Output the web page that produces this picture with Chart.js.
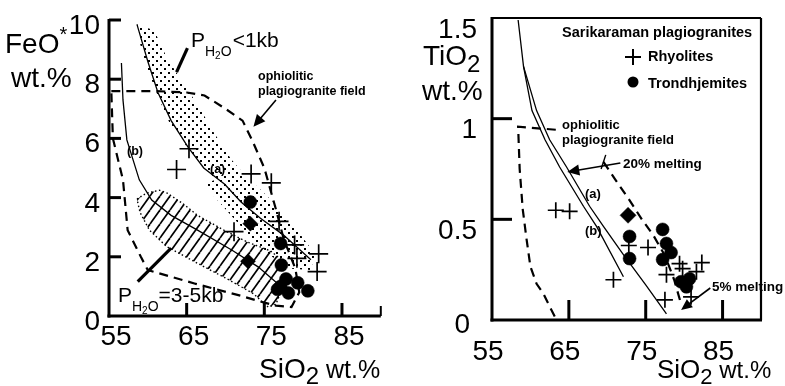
<!DOCTYPE html>
<html><head><meta charset="utf-8">
<script src="https://cdn.jsdelivr.net/npm/chart.js@4/dist/chart.umd.min.js"></script>
<style>
html,body{margin:0;padding:0;background:#fff;width:785px;height:386px;overflow:hidden}
canvas{position:absolute;top:0}
#c1{left:0}
#c2{left:392px}
</style></head><body>
<canvas id="c1" width="392" height="386"></canvas>
<canvas id="c2" width="393" height="386"></canvas>
<script>
// ---------- data ----------
const xTickValues = [55, 65, 75, 85];
const feoTickValues = [0, 2, 4, 6, 8, 10];
const tioTickValues = [0, 0.5, 1, 1.5];
const tioTickLabels = ['0', '0.5', '1', '1.5'];

// FeO* panel
const feoRhyolites = [[65.3,5.65],[63.7,4.95],[73.3,4.8],[75.9,4.5],[71.1,2.85],[76.9,3.2],[78.9,2.4],[79.2,1.95],[82,2.1],[81.8,1.5]];
const feoTrondhjemites = [[73.2,3.85],[77.1,2.45],[77.2,1.72],[77.1,1.0],[78.1,0.78],[80.6,0.85],[79.3,1.12],[76.7,0.9],[77.8,1.25]];
const feoDiamonds = [[73.2,3.12],[72.9,1.85]];
const feoCurveA = [[58.6,9.85],[60,8.6],[61.3,7.55],[63,6.6],[65.2,5.7],[67.2,5.0],[69.9,4.45],[72,3.85],[74.5,3.3],[77.4,2.75],[81,1.9]];
const feoCurveB = [[56.6,8.55],[56.8,7.3],[57.3,5.95],[58.9,4.6],[60.5,3.92],[63,3.4],[66.4,2.9],[70.8,2.23],[74.2,1.66],[76.7,1.1]];
const feoOphiolitic = [[55.3,7.6],[61,7.6],[65,7.55],[67.3,7.45],[70,7.0],[72.2,6.6],[73.5,5.9],[75,5.0],[76.5,3.6],[77.5,2.6],[79,1.6],[79.5,0.8],[78.5,0.3],[76.5,0.35],[75,0.45],[72,0.68],[66,1.1],[60,1.55],[59.1,2.0],[57.4,2.9],[56.8,4.6],[55.5,6.0],[55.3,7.6]];
const feoLowP = [[58.6,9.85],[60.8,9.65],[62.5,8.7],[64.5,7.9],[66.5,7.1],[68.5,6.2],[70.7,5.3],[72.7,4.7],[74.6,4.25],[76.3,3.8],[77.6,3.35],[79.5,2.8],[81.5,2.1],[81,1.55],[78.5,1.6],[76,2.0],[73.5,2.6],[70.7,3.4],[68,4.2],[67.2,4.45],[68.7,4.6],[67.5,5.0],[66.2,5.3],[64.5,5.9],[63,6.4],[61.5,7.3],[60,8.3],[59,9.2],[58.6,9.85]];
const feoHighP = [[58.6,3.95],[59.8,4.15],[61.5,4.25],[62.5,4.15],[64.5,3.8],[66.4,3.4],[69.8,2.9],[72.8,2.5],[75.8,2.2],[77.2,1.9],[77.4,1.0],[76.5,0.4],[75.5,0.3],[73.6,0.75],[70.6,1.2],[66.4,1.78],[62.4,2.35],[60.2,2.9],[59,3.5],[58.6,3.95]];

// TiO2 panel
const tioRhyolites = [[63.3,0.545],[65.1,0.54],[70.8,0.2],[75.3,0.36],[72.8,0.37],[79.4,0.28],[82.3,0.285],[77.7,0.225],[81.6,0.24],[77.5,0.1],[80.9,0.115],[79.8,0.255]];
const tioTrondhjemites = [[72.9,0.415],[72.9,0.305],[77.2,0.45],[77.7,0.38],[78.3,0.335],[77.2,0.3],[79.6,0.19],[80.7,0.205],[80.3,0.165]];
const tioDiamonds = [[72.7,0.52]];
const tioCurveA = [[58.4,1.49],[59.1,1.26],[60.8,1.04],[62.5,0.895],[64.7,0.76],[67.7,0.565],[69.5,0.465],[72,0.33],[75,0.175],[77.7,0.03]];
const tioCurveB = [[59.1,1.26],[60.2,1.04],[61.9,0.895],[63.8,0.76],[66.9,0.565],[68.6,0.465],[72.1,0.215]];
const tioOphioliticLeft = [[63.3,0.945],[58.4,0.96],[58.6,0.75],[59.0,0.55],[59.5,0.4],[60,0.265],[60.8,0.18],[61.7,0.13],[62.6,0.06],[63.4,0.0]];
const tioOphioliticRight = [[69.5,0.785],[71,0.7],[72.8,0.6],[74.5,0.5],[76,0.42],[77.5,0.32],[78.7,0.2],[79.6,0.08]];

// ---------- helpers ----------
const FONT = '"Liberation Sans", Arial, Helvetica, sans-serif';
const OX = 392; // page offset of right canvas
const xy = a => a.map(([x, y]) => ({x, y}));

function makePatterns(ctx) {
  const s = document.createElement('canvas'); s.width = 8; s.height = 8;
  const g = s.getContext('2d'); g.fillStyle = '#000';
  g.fillRect(0, 0, 2, 2); g.fillRect(4, 4, 2, 2);
  const h = document.createElement('canvas'); h.width = 10; h.height = 14;
  const k = h.getContext('2d'); k.strokeStyle = '#000'; k.lineWidth = 1.7;
  for (const o of [-10, 0, 10]) { k.beginPath(); k.moveTo(o, 14); k.lineTo(o + 10, 0); k.stroke(); }
  return {stipple: ctx.createPattern(s, 'repeat'), hatch: ctx.createPattern(h, 'repeat')};
}
function setFont(ctx, size, bold) { ctx.font = (bold ? 'bold ' : '') + size + 'px ' + FONT; }
function text(ctx, s, x, y, size, bold, align) {
  setFont(ctx, size, bold); ctx.textAlign = align || 'left'; ctx.textBaseline = 'alphabetic';
  ctx.fillText(s, x, y); return ctx.measureText(s).width;
}
function runs(ctx, x, y, parts, bold) {
  for (const [s, size, dy] of parts) x += text(ctx, s, x, y + (dy || 0), size, bold, 'left');
}
function seg(ctx, x1, y1, x2, y2, w) {
  ctx.lineWidth = w; ctx.beginPath(); ctx.moveTo(x1, y1); ctx.lineTo(x2, y2); ctx.stroke();
}
function arrow(ctx, x1, y1, x2, y2, w, len, half) {
  const a = Math.atan2(y2 - y1, x2 - x1);
  seg(ctx, x1, y1, x2 - len * 0.6 * Math.cos(a), y2 - len * 0.6 * Math.sin(a), w);
  ctx.beginPath(); ctx.moveTo(x2, y2);
  ctx.lineTo(x2 - len * Math.cos(a) + half * Math.sin(a), y2 - len * Math.sin(a) - half * Math.cos(a));
  ctx.lineTo(x2 - len * Math.cos(a) - half * Math.sin(a), y2 - len * Math.sin(a) + half * Math.cos(a));
  ctx.closePath(); ctx.fill();
}
function pts(data, style, r, extra) {
  return Object.assign({data: xy(data), showLine: false, pointStyle: style, pointRadius: r, pointHoverRadius: r,
    pointBorderWidth: style === 'cross' ? 1.7 : 0.5, borderColor: '#000', backgroundColor: '#000',
    pointBorderColor: '#000', pointBackgroundColor: '#000'}, extra || {});
}
function lineDs(data, w, dash) {
  return {data: xy(data), showLine: true, pointRadius: 0, pointHoverRadius: 0, borderColor: '#000',
    borderWidth: w, borderDash: dash || [], fill: false, tension: 0};
}
function polyDs(data, pattern, border, dash) {
  return {data: xy(data), showLine: true, pointRadius: 0, pointHoverRadius: 0,
    borderColor: border ? '#000' : 'rgba(0,0,0,0)', borderWidth: border ? 1.4 : 1, borderDash: dash || [],
    backgroundColor: pattern, fill: 'shape', tension: 0};
}
function makeChart(id, ymax, padding, datasets, deco) {
  return new Chart(document.getElementById(id), {
    type: 'scatter',
    data: {datasets},
    options: {
      responsive: false, animation: false, devicePixelRatio: 1, events: [],
      layout: {padding},
      scales: {
        x: {type: 'linear', min: 55, max: 90, display: false},
        y: {type: 'linear', min: 0, max: ymax, display: false}
      },
      plugins: {legend: {display: false}, tooltip: {enabled: false}}
    },
    plugins: [{id: 'deco', afterDatasetsDraw: deco}]
  });
}

// ---------- left panel ----------
function decoFeO(chart) {
  const ctx = chart.ctx, X = v => chart.scales.x.getPixelForValue(v), Y = v => chart.scales.y.getPixelForValue(v);
  ctx.save(); ctx.strokeStyle = '#000'; ctx.fillStyle = '#000';
  seg(ctx, X(55), Y(10) - 1, X(55), Y(0) + 1.5, 3);
  seg(ctx, X(55) - 1.5, Y(0), X(90), Y(0), 3);
  feoTickValues.forEach(t => { if (t > 0) seg(ctx, X(55), Y(t), X(55) + 12, Y(t), 3); });
  xTickValues.forEach(t => { if (t > 55) seg(ctx, X(t), Y(0), X(t), Y(0) - 13, 3); });
  seg(ctx, X(90), Y(0), X(90), Y(0) - 10, 2);
  feoTickValues.forEach(t => text(ctx, String(t), X(55) - 9, Y(t) + 14, 28, false, 'right'));
  xTickValues.forEach(t => text(ctx, String(t), X(t) + 7, Y(0) + 29, 28, false, 'center'));
  runs(ctx, 5, 53, [['FeO', 28], ['*', 20, -12]]);
  text(ctx, 'wt.%', 11, 87, 28);
  runs(ctx, 259, 378, [['SiO', 28], ['2', 24, 6], [' wt.%', 25]]);
  // P_H2O labels
  runs(ctx, 191, 47, [['P', 21], ['H', 14, 9], ['2', 10, 12], ['O', 14, 9], [' ', 4], ['<1kb', 21]]);
  runs(ctx, 118, 302, [['P', 21], ['H', 14, 9], ['2', 10, 12], ['O', 14, 9], ['=3-5kb', 21]]);
  ctx.lineCap = 'butt';
  seg(ctx, X(65.1), Y(9.05), X(63.7), Y(8.24), 3.2);
  seg(ctx, X(58.7), Y(1.16), X(63), Y(2.29), 3.2);
  text(ctx, 'ophiolitic', 258, 80, 12.5, true);
  text(ctx, 'plagiogranite field', 258, 95, 12.5, true);
  arrow(ctx, X(76.5), Y(7.3), X(73.6), Y(6.39), 1.6, 12, 5.5);
  text(ctx, '(b)', 127, 155, 12.5, true);
  text(ctx, '(a)', 210, 173, 12.5, true);
  ctx.restore();
}

// ---------- right panel ----------
function decoTiO(chart) {
  const ctx = chart.ctx, X = v => chart.scales.x.getPixelForValue(v), Y = v => chart.scales.y.getPixelForValue(v);
  ctx.save(); ctx.strokeStyle = '#000'; ctx.fillStyle = '#000';
  seg(ctx, X(55), Y(1.5), X(90), Y(1.5), 2.2);
  seg(ctx, X(90), Y(1.5), X(90), Y(0), 2.2);
  seg(ctx, X(55), Y(1.5) - 1, X(55), Y(0) + 1.5, 3);
  seg(ctx, X(55) - 1.5, Y(0), X(90) + 1, Y(0), 3);
  tioTickValues.forEach(t => { if (t > 0 && t < 1.5) seg(ctx, X(55), Y(t), X(55) + 20, Y(t), 3); });
  xTickValues.forEach(t => { if (t > 55) seg(ctx, X(t), Y(0), X(t), Y(0) - 20, 3); });
  tioTickValues.forEach((t, i) => text(ctx, tioTickLabels[i], X(55) - 15 - (t === 0 ? 7 : 0), Y(t) + (t === 0 ? 13 : 19.5), 28, false, 'right'));
  xTickValues.forEach(t => text(ctx, String(t), X(t) - 4, Y(0) + 40, 28, false, 'center'));
  runs(ctx, 423 - OX, 65, [['TiO', 28], ['2', 24, 7]]);
  text(ctx, 'wt.%', 422 - OX, 100, 28);
  runs(ctx, 657 - OX, 378, [['SiO', 26], ['2', 22, 6], [' wt.%', 24]]);
  // legend
  text(ctx, 'Sarikaraman plagiogranites', 562 - OX, 37, 14.5, true);
  seg(ctx, 625 - OX, 57, 641 - OX, 57, 2); seg(ctx, 633 - OX, 49, 633 - OX, 65, 2);
  text(ctx, 'Rhyolites', 648 - OX, 61, 14.5, true);
  ctx.beginPath(); ctx.arc(633 - OX, 82, 5.5, 0, Math.PI * 2); ctx.fill();
  text(ctx, 'Trondhjemites', 648 - OX, 88, 14.5, true);
  // annotations
  text(ctx, 'ophiolitic', 562 - OX, 129, 13, true);
  text(ctx, 'plagiogranite field', 562 - OX, 144, 13, true);
  text(ctx, '20% melting', 623 - OX, 168, 13.5, true);
  arrow(ctx, X(71.7), Y(0.78), X(64.8), Y(0.735), 1.6, 12, 5.5);
  seg(ctx, X(69.2), Y(0.75), X(69.8), Y(0.82), 1.4);
  text(ctx, '(a)', 585 - OX, 198, 13, true);
  text(ctx, '(b)', 585 - OX, 235, 13, true);
  text(ctx, '5% melting', 712 - OX, 291, 13.5, true);
  arrow(ctx, X(83.4), Y(0.159), X(79.6), Y(0.05), 1.6, 11, 5);
  ctx.restore();
}

const pat1 = makePatterns(document.getElementById('c1').getContext('2d'));

makeChart('c1', 10, {left: 109, right: 9, top: 20, bottom: 70}, [
  pts(feoTrondhjemites, 'circle', 6.5),
  pts(feoDiamonds, 'rectRot', 7.5),
  pts(feoRhyolites, 'cross', 9.5),
  lineDs(feoCurveA, 1.3),
  lineDs(feoCurveB, 1.3),
  lineDs(feoOphiolitic, 2.2, [9, 6]),
  polyDs(feoHighP, pat1.hatch, true, [1.5, 2.5]),
  polyDs(feoLowP, pat1.stipple, false)
], decoFeO);

makeChart('c2', 1.5, {left: 100, right: 24, top: 18, bottom: 66}, [
  pts(tioTrondhjemites, 'circle', 6.5),
  pts(tioDiamonds, 'rectRot', 8),
  pts(tioRhyolites, 'cross', 8),
  lineDs(tioCurveA, 1.3),
  lineDs(tioCurveB, 1.3),
  lineDs(tioOphioliticLeft, 2.2, [9, 6]),
  lineDs(tioOphioliticRight, 2.2, [9, 6])
], decoTiO);
</script>
</body></html>
